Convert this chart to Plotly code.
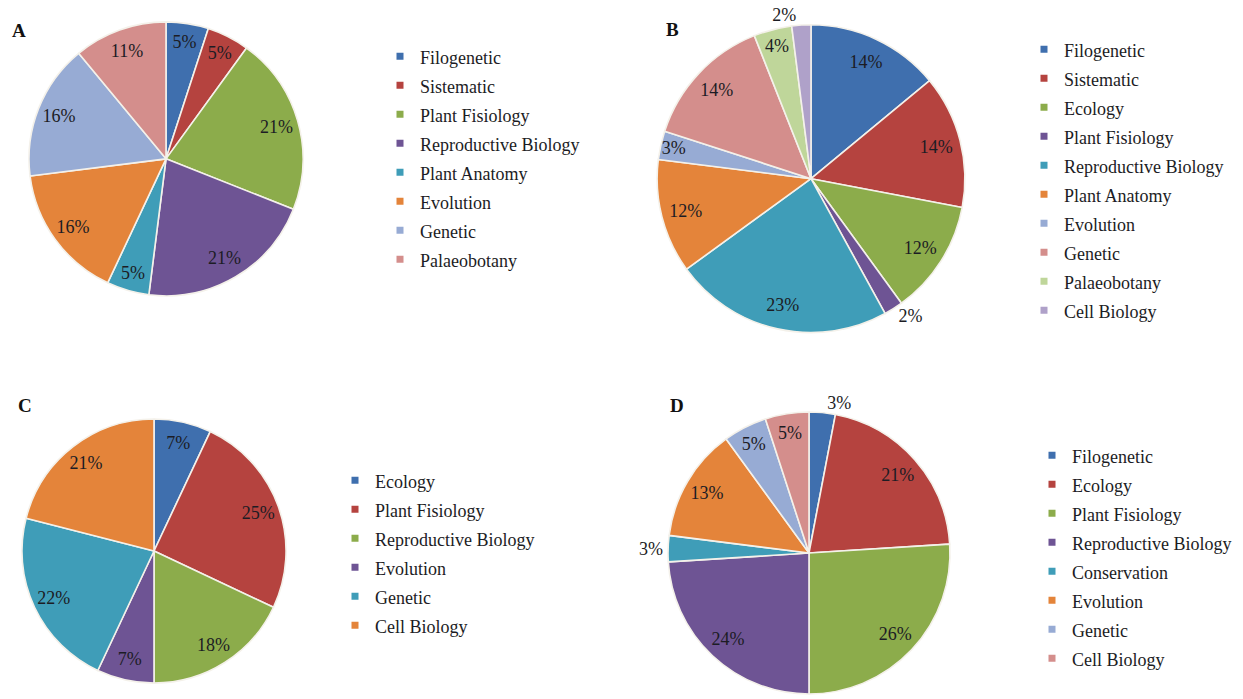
import plotly.graph_objects as go

# Research topic shares (%) for four groups of studies
labels_a = ["Filogenetic", "Sistematic", "Plant Fisiology", "Reproductive Biology",
            "Plant Anatomy", "Evolution", "Genetic", "Palaeobotany"]
values_a = [5, 5, 21, 21, 5, 16, 16, 11]

labels_b = ["Filogenetic", "Sistematic", "Ecology", "Plant Fisiology", "Reproductive Biology",
            "Plant Anatomy", "Evolution", "Genetic", "Palaeobotany", "Cell Biology"]
values_b = [14, 14, 12, 2, 23, 12, 3, 14, 4, 2]

labels_c = ["Ecology", "Plant Fisiology", "Reproductive Biology", "Evolution",
            "Genetic", "Cell Biology"]
values_c = [7, 25, 18, 7, 22, 21]

labels_d = ["Filogenetic", "Ecology", "Plant Fisiology", "Reproductive Biology",
            "Conservation", "Evolution", "Genetic", "Cell Biology"]
values_d = [3, 21, 26, 24, 3, 13, 5, 5]

# slices whose label sits outside the pie
outside_a = []
outside_b = [3, 9]
outside_c = []
outside_d = [0, 4]

PALETTE = ["#3F6FAE", "#B5433F", "#8CAC4B", "#6E5494", "#3F9DB8",
           "#E4843A", "#97ABD4", "#D48E8C", "#BFD69A", "#AFA1C9"]

W, H = 1243, 699
SERIF = "Liberation Serif, Times New Roman, serif"
TEXT = "#1c1c24"


def dom(cx, cy, r):
    """Pie domain in paper coordinates from a centre and radius in pixels."""
    x0, x1 = (cx - r) / W, (cx + r) / W
    y0, y1 = 1 - (cy + r) / H, 1 - (cy - r) / H
    return dict(x=[max(0, x0), min(1, x1)], y=[max(0, y0), min(1, y1)])


fig = go.Figure()


def add_panel(labels, values, outside, domain, legend):
    colors = PALETTE[:len(values)]
    # filled slices
    fig.add_trace(go.Pie(
        labels=labels, values=values, sort=False, direction="clockwise", rotation=0,
        domain=domain, textinfo="none", showlegend=False, hoverinfo="skip",
        marker=dict(colors=colors, line=dict(color="#F4F1EA", width=1.6)),
    ))
    # transparent ring on top carrying the percentage labels near the rim
    fig.add_trace(go.Pie(
        labels=labels, values=values, sort=False, direction="clockwise", rotation=0,
        domain=domain, hole=0.68, showlegend=False,
        marker=dict(colors=["rgba(0,0,0,0)"] * len(values), line=dict(width=0)),
        texttemplate="%{value}%",
        textposition=["outside" if i in outside else "inside" for i in range(len(values))],
        insidetextorientation="horizontal",
        textfont=dict(family=SERIF, size=18, color=TEXT),
        hovertemplate="%{label}: %{value}%<extra></extra>",
    ))
    # legend entries
    for lab, col in zip(labels, colors):
        fig.add_trace(go.Scatter(
            x=[None], y=[None], mode="markers", legend=legend, hoverinfo="skip",
            name=f'<span style="font-size:18px">{lab}</span>',
            marker=dict(symbol="square", size=7, color=col),
        ))


add_panel(labels_a, values_a, outside_a, dom(166, 160, 138), "legend")
add_panel(labels_b, values_b, outside_b, dom(811, 180, 155), "legend2")
add_panel(labels_c, values_c, outside_c, dom(154, 555, 133), "legend3")
add_panel(labels_d, values_d, outside_d, dom(809, 557, 142), "legend4")


def legend_at(px, py):
    return dict(
        x=px / W, y=1 - py / H, xanchor="left", yanchor="top",
        font=dict(family=SERIF, size=20, color=TEXT),
        bgcolor="rgba(0,0,0,0)", borderwidth=0, itemwidth=30,
        traceorder="normal",
    )


panel_letters = [("A", 10, 31), ("B", 664, 30), ("C", 16, 408), ("D", 668, 408)]

fig.update_layout(
    width=W, height=H,
    margin=dict(l=0, r=0, t=0, b=0),
    paper_bgcolor="white", plot_bgcolor="rgba(0,0,0,0)",
    showlegend=True,
    uniformtext=dict(minsize=18, mode="show"),
    xaxis=dict(visible=False), yaxis=dict(visible=False),
    legend=legend_at(380, 37),
    legend2=legend_at(1024, 30),
    legend3=legend_at(335, 464),
    legend4=legend_at(1032, 439),
    annotations=[
        dict(text=f"<b>{t}</b>", x=x / W, y=1 - y / H, xref="paper", yref="paper",
             xanchor="left", yanchor="middle", showarrow=False,
             font=dict(family=SERIF, size=19, color="#111"))
        for t, x, y in panel_letters
    ],
)

fig.write_html("out.html")
